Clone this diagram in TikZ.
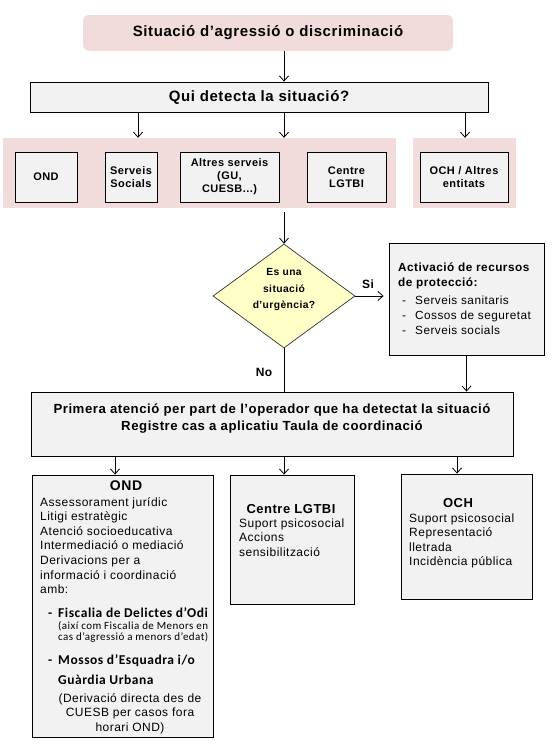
\documentclass[tikz,border=0pt]{standalone}
\usepackage{fontspec}
\setmainfont{Liberation Sans}[LetterSpace=4]
\newfontfamily\calib{Carlito}[LetterSpace=4]
\usetikzlibrary{arrows.meta,shapes.geometric,calc}
\definecolor{pinkbg}{HTML}{F2DCDB}
\definecolor{graybox}{HTML}{F2F2F2}
\definecolor{yel}{HTML}{FFFFC8}
\begin{document}
\begin{tikzpicture}[x=1pt,y=-1pt,
  box/.style={draw=black, fill=graybox, line width=0.9pt, inner sep=0pt, align=center},
  arr/.style={line width=0.8pt, -{Straight Barb[length=5pt,width=9pt,line width=0.8pt]}},
  ln/.style={line width=0.8pt},
  bfb/.style={font=\fontsize{11}{13}\selectfont\bfseries},
  txt/.style={inner sep=0pt, align=left, font=\fontsize{12}{14.6}\selectfont},
]
\useasboundingbox[fill=white] (0,0) rectangle (556,747);
\coordinate (c1) at (138,0);
\coordinate (col) at (284,0);
\coordinate (c3) at (465,0);
\coordinate (c4) at (115,0);
\coordinate (c6) at (457,0);

\node[fill=pinkbg, rounded corners=6pt, minimum width=370pt, minimum height=36pt, font=\fontsize{15}{17}\selectfont\bfseries] (sit) at (268,33) {Situació d’agressió o discriminació};
\node[box, minimum width=458pt, minimum height=30pt, font=\fontsize{15}{17}\selectfont\bfseries] (qui) at (259,97) {Qui detecta la situació?};
\draw[arr] (sit.south -| col) -- (qui.north -| col);

\node[fill=pinkbg, minimum width=393pt, minimum height=70pt, inner sep=0pt] (bg1) at (199.5,173) {};
\node[fill=pinkbg, minimum width=103pt, minimum height=70pt, inner sep=0pt] (bg2) at (464.5,173) {};
\draw[arr] (qui.south -| c1) -- (bg1.north -| c1);
\draw[arr] (qui.south -| col) -- (bg1.north -| col);
\draw[arr] (qui.south -| c3) -- (bg2.north -| c3);

\node[box, bfb, minimum width=62pt, minimum height=50pt] (ond1) at (46,177) {OND};
\node[box, bfb, minimum width=52pt, minimum height=50pt] (ss) at (131,177) {Serveis\\Socials};
\node[box, bfb, minimum width=99pt, minimum height=50pt] (alt) at (229.5,177) {Altres serveis\\(GU,\\CUESB...)};
\node[box, bfb, minimum width=79pt, minimum height=50pt] (clg1) at (346.5,177) {Centre\\LGTBI};
\node[box, bfb, minimum width=88pt, minimum height=50pt] (och1) at (464,177) {OCH / Altres\\entitats};

\node[diamond, draw=black!80, line width=0.7pt, fill=yel, minimum width=142pt, minimum height=104pt, inner sep=0pt] (urg) at (284,296) {};
\node[inner sep=0pt, align=center, font=\fontsize{10.3}{16.5}\selectfont\bfseries] (urgt) at (284,290) {Es una\\situació\\d'urgència?};
\draw[arr, shorten <=4pt] (bg1.south -| col) -- (urg.north);

\node[box, minimum width=155pt, minimum height=112pt] (act) at (466.5,299) {};
\node[anchor=base west, inner sep=0pt, align=left, font=\fontsize{11.8}{15}\selectfont\bfseries] (acth) at (398,286) {Activació de recursos\\de protecció:};
\node[anchor=base west, inner sep=0pt, align=left, font=\fontsize{11.8}{15}\selectfont] (actl) at (402,334) {\makebox[13pt][l]{-}Serveis sanitaris\\\makebox[13pt][l]{-}Cossos de seguretat\\\makebox[13pt][l]{-}Serveis socials};
\draw[arr, shorten >=5pt] (urg.east) -- (act.west |- urg.east);
\node[font=\fontsize{12}{14}\selectfont\bfseries, inner sep=0pt] (si) at (368,284) {Si};

\node[box, minimum width=482pt, minimum height=64pt] (pri) at (272,424) {};
\node[inner sep=0pt, align=center, font=\fontsize{13.2}{17}\selectfont\bfseries] (prit) at (272,419) {Primera atenció per part de l’operador que ha detectat la situació\\Registre cas a aplicatiu Taula de coordinació};
\draw[ln] (urg.south) -- (pri.north -| urg.south);
\node[font=\fontsize{12}{14}\selectfont\bfseries, inner sep=0pt] (no) at (264,372) {No};
\draw[arr] (act.south) -- (pri.north -| act.south);

\node[box, minimum width=181pt, minimum height=262pt] (ond2) at (122.5,606) {};
\node[box, minimum width=124pt, minimum height=129pt] (clg2) at (292,539.5) {};
\node[box, minimum width=131pt, minimum height=125pt] (och2) at (466.5,536.5) {};
\draw[arr] (pri.south -| c4) -- (ond2.north -| c4);
\draw[arr] (pri.south -| col) -- (clg2.north -| col);
\draw[arr] (pri.south -| c6) -- (och2.north -| c6);

% OND content
\node[anchor=base, inner sep=0pt, font=\fontsize{14}{16}\selectfont\bfseries] (ondt) at (126,490) {OND};
\node[txt, anchor=base west] (ondl) at (40,593.6) {Assessorament jurídic\\Litigi estratègic\\Atenció socioeducativa\\Intermediació o mediació\\Derivacions per a\\informació i coordinació\\amb:};
\node[anchor=base west, inner sep=0pt, font=\calib\fontsize{13.5}{15}\selectfont\bfseries] (fis) at (48,617) {\makebox[10pt][l]{-}Fiscalia de Delictes d’Odi};
\node[anchor=base west, inner sep=0pt, align=left, font=\calib\fontsize{11}{11.5}\selectfont] (fisn) at (58,640.5) {(així com Fiscalia de Menors en\\cas d’agressió a menors d’edat)};
\node[anchor=base west, inner sep=0pt, align=left, font=\calib\fontsize{13.5}{20}\selectfont\bfseries] (mos) at (48,664.5) {\makebox[10pt][l]{-}Mossos d’Esquadra i/o};
\node[anchor=base west, inner sep=0pt, font=\calib\fontsize{13.5}{20}\selectfont\bfseries] (gua) at (58,684.5) {Guàrdia Urbana};
\node[anchor=base, inner sep=0pt, align=center, font=\fontsize{12}{14.6}\selectfont] (der) at (130,731.2) {(Derivació directa des de\\CUESB per casos fora\\horari OND)};

% Centre LGTBI content
\node[anchor=base, inner sep=0pt, font=\fontsize{13}{15}\selectfont\bfseries] (clgt) at (291,513) {Centre LGTBI};
\node[txt, anchor=base west] (clgl) at (239,556.2) {Suport psicosocial\\Accions\\sensibilització};

% OCH content
\node[anchor=base, inner sep=0pt, font=\fontsize{13}{15}\selectfont\bfseries] (ocht) at (458,507) {OCH};
\node[txt, anchor=base west] (ochl) at (409,565.8) {Suport psicosocial\\Representació\\lletrada\\Incidència pública};
\end{tikzpicture}
\end{document}
